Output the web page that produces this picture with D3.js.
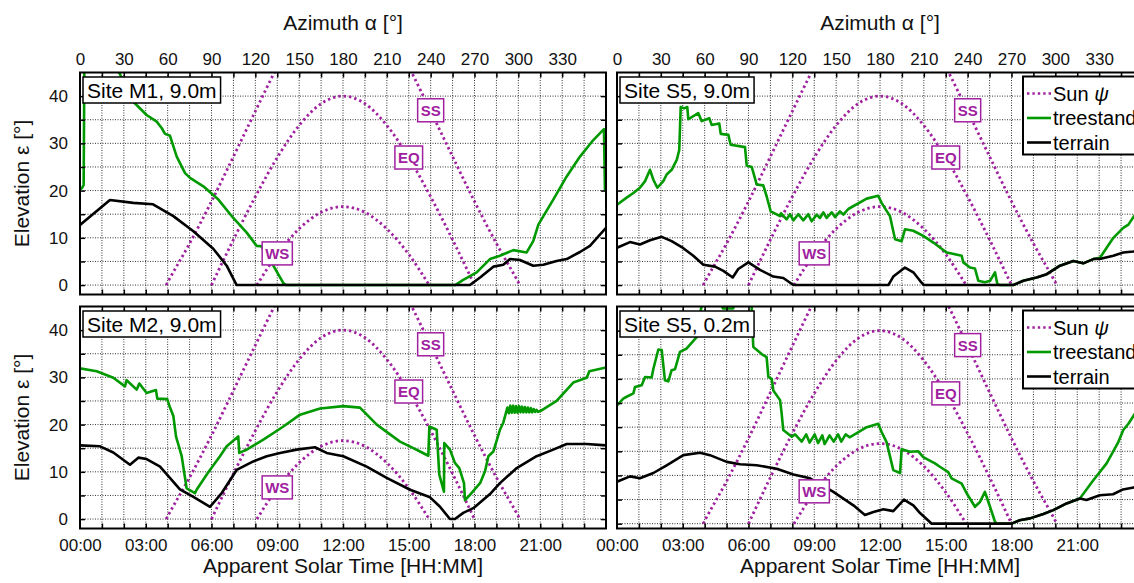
<!DOCTYPE html>
<html>
<head>
<meta charset="utf-8">
<script src="https://cdn.jsdelivr.net/npm/d3@7"></script>
<style>
  body { margin: 0; background: #fff; }
  text { font-family: "Liberation Sans", Arial, sans-serif; }
</style>
</head>
<body>
<svg width="1134" height="583"></svg>
<script>
// tick labels
const azLabels = [0, 30, 60, 90, 120, 150, 180, 210, 240, 270, 300, 330];
const timeLabels = ["00:00", "03:00", "06:00", "09:00", "12:00", "15:00", "18:00", "21:00"];
const elevLabels = [0, 10, 20, 30, 40];

// sun paths: apparent solar time [h] -> elevation [deg]
const ssHours = [3.93, 4, 5, 6, 7, 8, 9, 10, 11, 12, 13, 14, 15, 16, 17, 18, 19, 20, 20.07];
const ssElev  = [0, 0.6, 8.8, 17.7, 27.2, 36.8, 46.2, 54.6, 61.0, 63.5, 61.0, 54.6, 46.2, 36.8, 27.2, 17.7, 8.8, 0.6, 0];
const eqHours = [6, 7, 8, 9, 10, 11, 12, 13, 14, 15, 16, 17, 18];
const eqElev  = [0, 9.6, 18.7, 27.0, 33.8, 38.4, 40.0, 38.4, 33.8, 27.0, 18.7, 9.6, 0];
const wsHours = [8.07, 9, 10, 11, 12, 13, 14, 15, 15.93];
const wsElev  = [0, 6.5, 11.9, 15.4, 16.6, 15.4, 11.9, 6.5, 0];

// sun path tags [azimuth, elevation]
const sunTags = [["SS", 240, 37], ["EQ", 225, 27], ["WS", 135, 6.7]];

// horizons [azimuth, elevation]
const m1Tree = [[0,20.2],[1.5,20.6],[2.5,21.2],[3,47],[26,45.5],[36.5,38.8],[45.6,36.0],[52.5,34.6],[56,33.2],[58.2,32.0],[61.6,31.6],[66.2,27.2],[71.9,23.7],[75.3,22.7],[84.4,20.9],[94.7,18.1],[104.9,14.2],[114.1,11.1],[120.9,8.3],[124,8.2],[128,6.5],[132.3,4.1],[139.2,0.4],[141,0],[257,0],[257.8,0.2],[262.3,1.1],[271.5,2.7],[280.6,5.5],[287.4,6.2],[296.6,7.4],[305.7,6.9],[310.2,9.3],[313.7,12.8],[323.9,18.1],[333.1,23.0],[342.2,27.2],[351.3,30.7],[358.6,33.0],[359.3,19.9]];
const m1Terrain = [[0,12.7],[20.5,18.0],[36.5,17.4],[50,17.1],[63.9,14.6],[77.6,11.4],[91.2,7.7],[100.4,4.1],[107.2,0],[266.9,0],[273.8,1.6],[282.9,3.9],[289.7,4.3],[294.3,5.5],[301.1,5.3],[310.2,4.1],[317.1,4.3],[326.2,5.1],[333.1,5.5],[342.2,7.0],[349,8.3],[360,12.1]];

const s5hTree = [[0,17.0],[6.6,18.5],[11.2,19.5],[15.7,20.6],[19.2,22.0],[22.6,24.4],[24.9,22.3],[27.6,20.6],[31.7,22.0],[34,23.4],[37.4,24.4],[40.9,26.5],[42.6,28.6],[43.6,37.7],[45.9,37.4],[48.1,37.7],[48.8,35.1],[55.6,36.4],[58,34.7],[63.2,35.3],[64.8,33.9],[70,34.2],[71,32.0],[76.2,31.8],[77.8,29.7],[87.6,29.2],[88.8,25.3],[92.2,25.0],[95.6,21.3],[100.1,21.1],[102.4,18.8],[105.2,15.6],[111.6,14.6],[112.2,15.2],[116.1,13.9],[118.4,15.0],[120.7,13.7],[124.1,15.0],[127.5,13.7],[130.9,15.0],[133.2,13.5],[136.7,14.9],[138.9,14.2],[141.2,15.4],[143.5,14.2],[146.9,15.4],[149.2,14.4],[152.6,15.6],[154.9,14.9],[158.3,16.1],[170.9,18.3],[178.8,18.9],[181.1,17.4],[186.8,14.6],[190.3,9.7],[194.8,9.3],[197.1,11.8],[202.8,11.5],[209.6,10.4],[216.5,9.0],[225.6,6.9],[229,6.7],[235.9,6.2],[237,4.8],[241.6,3.7],[245,3.5],[247.3,0.9],[251.8,0.6],[255.3,0.9],[258.7,2.7],[260.3,0.2],[262,0],[271.2,0],[278.1,0.9],[287.2,1.6],[294.1,2.3],[303.2,4.1],[312.3,5.1],[319.1,4.6],[326,5.5],[330.6,5.8],[339.7,10.0],[346.5,12.1],[350,12.8],[353.8,14.6],[360,16.5]];
const s5hTerrain = [[0,7.9],[8.9,9.1],[15.7,8.6],[22.6,9.5],[30.6,10.2],[37.4,9.3],[45.4,7.8],[52.2,6.2],[59.1,4.3],[67.1,3.9],[72.8,3.0],[79.2,1.6],[83,3.4],[89.9,4.8],[97.9,3.2],[107,1.8],[113.8,1.5],[120.7,0],[185.7,0],[189.1,1.8],[197.1,3.7],[202.8,2.7],[207.4,0.9],[210,0],[271.2,0],[278.1,0.9],[287.2,1.6],[294.1,2.3],[303.2,4.1],[312.3,5.1],[319.1,4.6],[326,5.5],[331.7,5.6],[339.7,6.2],[346.5,6.9],[353.4,7.1],[360,7.4]];

const m2Tree = [[0,31.9],[11.4,31.3],[22.8,29.9],[30.8,28.1],[31.9,29.4],[38.8,27.4],[40.6,28.7],[45.6,26.7],[52,27.3],[52.9,25.5],[59.7,25.4],[61.6,23.6],[63.9,21.8],[65.7,17.5],[69.6,13.3],[71.9,8.7],[73,6.5],[78.7,5.5],[79.8,6.2],[87.8,9.9],[95.8,13.3],[100.4,15.4],[108.3,17.5],[109,14.0],[114.1,14.7],[125.5,16.8],[139.2,19.6],[150.6,22.1],[164.3,23.4],[180.2,23.9],[191.6,23.6],[203.1,20.0],[219,16.4],[228.1,15.0],[232.7,14.3],[238.4,13.4],[239.1,19.6],[244.1,18.9],[245.9,9.4],[249.1,5.8],[249.3,16.1],[253.2,14.7],[256.6,11.9],[259.6,10.8],[262.8,7.6],[263.5,4.0],[266.9,5.1],[273.8,7.6],[277.2,10.1],[279.5,13.3],[282.9,14.3],[287.4,18.9],[289.7,20.4],[292.5,23.6],[293.5,22.4],[294.5,24.0],[295.5,22.5],[296.5,24.0],[297.5,22.5],[298.5,23.9],[299.5,22.5],[300.5,23.9],[301.5,22.6],[302.5,23.8],[303.5,22.6],[304.5,23.7],[305.5,22.6],[306.5,23.6],[307.5,22.6],[308.5,23.5],[309.5,22.6],[310.5,23.3],[311.5,22.7],[312.5,23.1],[313.5,22.7],[314.8,22.8],[326.2,25.0],[337.6,28.9],[346.8,29.9],[348.6,31.3],[360,32.1]];
const m2Terrain = [[0,15.6],[13.7,15.4],[22.8,14.1],[34.2,11.5],[39.9,13.0],[45.6,12.7],[54.8,11.1],[68.4,6.3],[77.6,4.7],[89,2.6],[97,5.5],[107.2,10.4],[118.6,12.2],[127.8,13.3],[136.9,14.0],[148.3,14.7],[160.8,15.2],[168.8,14.0],[180.2,13.3],[196.2,11.1],[209.9,8.7],[225.9,6.2],[239.6,4.6],[246.4,2.6],[253.2,0],[256.6,0],[262.3,1.3],[269.2,2.3],[280.6,5.3],[287.4,7.6],[298.9,10.8],[312.5,13.3],[323.9,14.7],[333.1,15.9],[346.8,15.9],[360,15.6]];

const s5lTree = [[0,24.5],[4.3,25.9],[6.6,26.3],[11.2,27.0],[12.3,28.3],[16.9,28.7],[19.2,30.4],[23.7,30.3],[24.9,32.1],[28.3,36.1],[30.6,36.0],[32.8,29.7],[35.1,29.5],[37.4,31.8],[39.7,32.0],[43.1,35.6],[47.7,36.3],[55.6,39.0],[57.5,44.6],[59,45.6],[71,45.6],[72.5,44.6],[79.5,44.6],[81,46],[92,46],[93,38.4],[93.3,36.6],[100.1,34.9],[102.4,34.5],[103.6,30.4],[105.9,30.0],[107,27.6],[111.6,25.6],[112.7,22.8],[113.8,19.4],[119.6,18.0],[121.9,18.5],[126.4,17.0],[129.5,18.5],[131.8,16.8],[135.3,18.5],[137.6,16.7],[140.5,18.3],[142.1,16.5],[145.5,18.3],[148.3,17.0],[151.3,18.5],[153.5,17.0],[156.5,18.5],[159.2,17.9],[163.8,18.7],[170.9,20.0],[178.8,20.7],[181.1,19.0],[184.5,16.9],[189.1,11.1],[193.7,10.5],[194.8,15.4],[200.5,14.9],[206.2,15.0],[209.6,13.8],[217.6,12.5],[221,11.8],[226.7,10.7],[229,9.4],[235.9,8.3],[239.3,6.3],[245,3.5],[248.4,4.5],[251.8,6.6],[255.3,3.5],[258.7,0.4],[260,0],[270.1,0],[275.5,0.7],[282.7,1.1],[291.8,2.0],[298.6,2.8],[307.7,4.2],[316.8,5.2],[326,9.0],[335.1,12.5],[343.1,16.9],[346.5,19.4],[350,20.7],[353.8,22.5],[360,25]];
const s5lTerrain = [[0,8.7],[8.9,9.8],[15.7,9.4],[24.9,10.5],[34,12.1],[45.4,14.2],[56.8,14.7],[63.6,14.2],[75.1,12.8],[84.2,12.3],[95.6,12.1],[109.3,11.4],[120.7,10.2],[132.1,9.4],[148.1,6.6],[161.8,3.8],[169.7,1.8],[175.5,2.4],[182.3,3.0],[189.1,2.6],[196.4,5.0],[202.8,3.8],[207.4,2.2],[215.4,0],[270.1,0],[275.5,0.7],[282.7,1.1],[291.8,2.0],[298.6,2.8],[307.7,4.2],[316.8,5.2],[321.3,4.9],[330.4,5.9],[339.5,6.1],[346.3,7.1],[353.6,7.5],[360,7.8]];

const purple = "#a020a0";
const green = "#009900";

const svg = d3.select("svg");
const panelW = 526, panelH = 222;

const panels = [
  { id: 0, name: "Site M1, 9.0m", tree: m1Tree, terrain: m1Terrain, left: 80,  top: 72.5,  yDom: [-2, 45], first: true,  upper: true },
  { id: 1, name: "Site S5, 9.0m", tree: s5hTree, terrain: s5hTerrain, left: 617, top: 72.5,  yDom: [-2, 45], first: false, upper: true },
  { id: 2, name: "Site M2, 9.0m", tree: m2Tree, terrain: m2Terrain, left: 80,  top: 306.5, yDom: [-2, 45], first: true,  upper: false },
  { id: 3, name: "Site S5, 0.2m", tree: s5lTree, terrain: s5lTerrain, left: 617, top: 306.5, yDom: [-1, 45], first: false, upper: false }
];

panels.forEach(drawPanel);

function drawPanel(p) {
  const x = d3.scaleLinear().domain([0, 360]).range([p.left, p.left + panelW]);
  const y = d3.scaleLinear().domain(p.yDom).range([p.top + panelH, p.top]);
  const g = svg.append("g");

  g.append("clipPath").attr("id", "clip" + p.id)
    .append("rect")
    .attr("x", p.left).attr("y", p.top)
    .attr("width", panelW).attr("height", panelH);

  // griglia tratteggiata
  const grid = g.append("g").attr("stroke", "#333").attr("stroke-width", 1).attr("stroke-dasharray", "1,1.5");
  grid.selectAll(".gx").data(d3.range(15, 360, 15)).join("line")
    .attr("x1", d => x(d)).attr("x2", d => x(d))
    .attr("y1", p.top).attr("y2", p.top + panelH);
  grid.selectAll(".gy").data(d3.range(0, 45, 5)).join("line")
    .attr("x1", p.left).attr("x2", p.left + panelW)
    .attr("y1", d => y(d)).attr("y2", d => y(d));

  const plot = g.append("g").attr("clip-path", `url(#clip${p.id})`);

  // sole
  const sunLine = d3.line().x(d => x(d[0] * 15)).y(d => y(d[1])).curve(d3.curveMonotoneX);
  [[ssHours, ssElev], [eqHours, eqElev], [wsHours, wsElev]].forEach(([h, e]) => {
    plot.append("path")
      .datum(h.map((t, i) => [t, e[i]]))
      .attr("d", sunLine)
      .attr("fill", "none")
      .attr("stroke", purple)
      .attr("stroke-width", 2.8)
      .attr("stroke-dasharray", "2.4,3");
  });

  const hLine = d3.line().x(d => x(d[0])).y(d => y(d[1]));
  plot.append("path").datum(p.tree).attr("d", hLine)
    .attr("fill", "none").attr("stroke", green).attr("stroke-width", 2.6).attr("stroke-linejoin", "round");
  plot.append("path").datum(p.terrain).attr("d", hLine)
    .attr("fill", "none").attr("stroke", "#000").attr("stroke-width", 2.6).attr("stroke-linejoin", "round");

  // etichette SS / EQ / WS
  sunTags.forEach(([lab, az, el]) => {
    const tg = g.append("g");
    const t = tg.append("text")
      .attr("x", x(az)).attr("y", y(el) + 5.5)
      .attr("text-anchor", "middle")
      .attr("font-size", 15).attr("font-weight", "bold")
      .attr("fill", purple)
      .text(lab);
    const w = t.node().getComputedTextLength() + 6;
    tg.insert("rect", "text")
      .attr("x", x(az) - w / 2).attr("y", y(el) - 11.5)
      .attr("width", w).attr("height", 23)
      .attr("fill", "#fff").attr("stroke", purple).attr("stroke-width", 1.5);
  });

  // tacche interne su tutti i lati
  const ticks = g.append("g");
  ticks.append("g").attr("transform", `translate(0,${p.top})`)
    .call(d3.axisTop(x).tickValues(d3.range(15, 360, 15)).tickSize(-5).tickFormat(""));
  ticks.append("g").attr("transform", `translate(0,${p.top + panelH})`)
    .call(d3.axisBottom(x).tickValues(d3.range(15, 360, 15)).tickSize(-5).tickFormat(""));
  ticks.append("g").attr("transform", `translate(${p.left},0)`)
    .call(d3.axisLeft(y).tickValues(d3.range(0, 45, 5)).tickSize(-5).tickFormat(""));
  ticks.append("g").attr("transform", `translate(${p.left + panelW},0)`)
    .call(d3.axisRight(y).tickValues(d3.range(0, 45, 5)).tickSize(-5).tickFormat(""));
  ticks.selectAll(".domain").remove();
  ticks.selectAll(".tick line").attr("stroke-width", 1.5);

  g.append("rect")
    .attr("x", p.left).attr("y", p.top)
    .attr("width", panelW).attr("height", panelH)
    .attr("fill", "none").attr("stroke", "#000").attr("stroke-width", 2);

  // etichette assi
  const labStyle = sel => {
    sel.select(".domain").remove();
    sel.selectAll("text").attr("font-size", 17).attr("font-family", "'Liberation Sans', Arial, sans-serif").attr("fill", "#111");
  };
  if (p.upper) {
    g.append("g").attr("transform", `translate(0,${p.top})`)
      .call(d3.axisTop(x).tickValues(azLabels).tickSize(0).tickPadding(8))
      .call(labStyle);
    g.append("text")
      .attr("x", p.left + panelW / 2).attr("y", 30)
      .attr("text-anchor", "middle").attr("font-size", 21).attr("fill", "#111")
      .text("Azimuth α [°]");
  } else {
    g.append("g").attr("transform", `translate(0,${p.top + panelH})`)
      .call(d3.axisBottom(x).tickValues(timeLabels.map((_, i) => i * 45)).tickSize(0).tickPadding(10)
        .tickFormat((d, i) => timeLabels[i]))
      .call(labStyle);
    g.append("text")
      .attr("x", p.left + panelW / 2).attr("y", 573)
      .attr("text-anchor", "middle").attr("font-size", 21).attr("fill", "#111")
      .text("Apparent Solar Time [HH:MM]");
  }
  if (p.first) {
    g.append("g").attr("transform", `translate(${p.left},0)`)
      .call(d3.axisLeft(y).tickValues(elevLabels).tickSize(0).tickPadding(12))
      .call(labStyle);
    g.append("text")
      .attr("transform", `translate(29,${p.top + panelH / 2}) rotate(-90)`)
      .attr("text-anchor", "middle").attr("font-size", 21).attr("fill", "#111")
      .text("Elevation ε [°]");
  }

  // nome del sito
  const sg = g.append("g");
  const st = sg.append("text")
    .attr("x", p.left + 7).attr("y", p.top + 25)
    .attr("font-size", 21).attr("fill", "#000")
    .text(p.name);
  const sw = st.node().getComputedTextLength() + 8;
  sg.insert("rect", "text")
    .attr("x", p.left + 3).attr("y", p.top + 4.5)
    .attr("width", sw).attr("height", 26)
    .attr("fill", "#fff").attr("stroke", "#000").attr("stroke-width", 1.5);

  // legenda solo nei pannelli di destra (tagliata dal bordo come nell'originale)
  if (!p.first) {
    const lg = g.append("g").attr("transform", `translate(${p.left + 406},${p.top + 4})`);
    lg.append("rect")
      .attr("width", 140).attr("height", 78)
      .attr("fill", "#fff").attr("stroke", "#000").attr("stroke-width", 2);
    const items = [["Sun ", purple, "2.4,3"], ["treestand", green, null], ["terrain", "#000", null]];
    items.forEach(([name, col, dash], i) => {
      const cy = 17 + i * 24.5;
      lg.append("line")
        .attr("x1", 4).attr("x2", 28).attr("y1", cy).attr("y2", cy)
        .attr("stroke", col).attr("stroke-width", 2.6)
        .attr("stroke-dasharray", dash);
      const t = lg.append("text").attr("x", 30).attr("y", cy + 7).attr("font-size", 20).attr("fill", "#000").text(name);
      if (i === 0) t.append("tspan").attr("font-style", "italic").text("ψ");
    });
  }
}
</script>
</body>
</html>
